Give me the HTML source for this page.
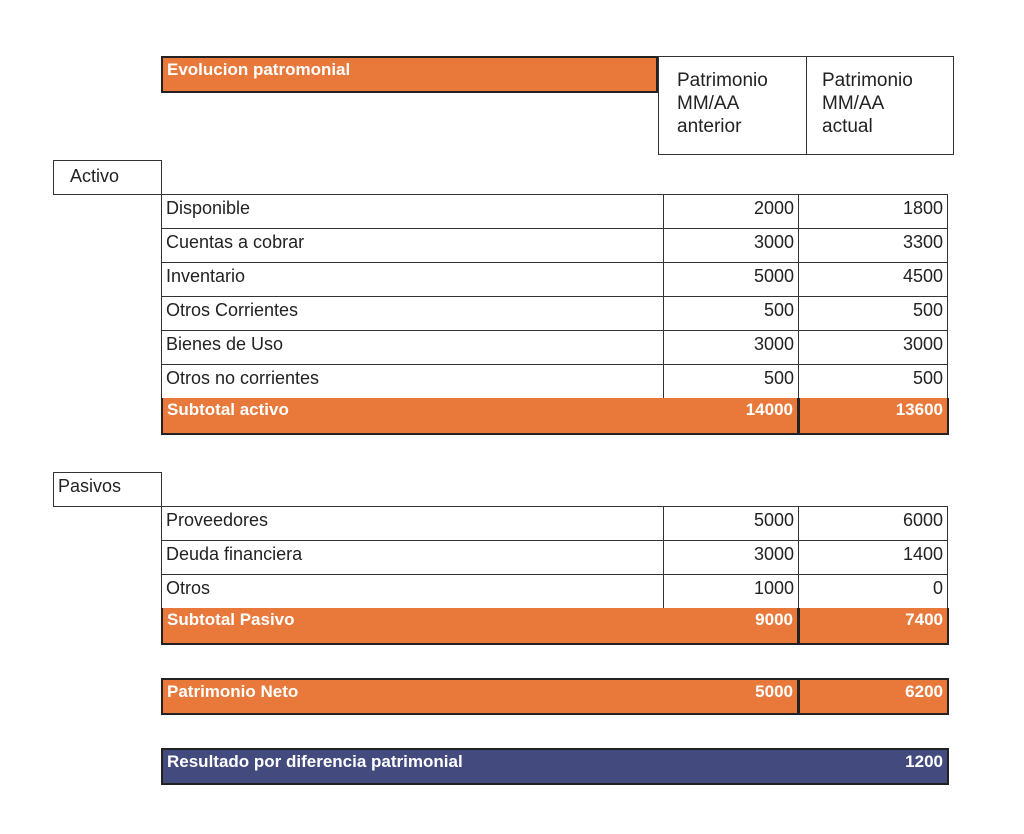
<!DOCTYPE html>
<html><head><meta charset="utf-8"><style>
body{margin:0;width:1024px;height:834px;background:#fff;position:relative;font-family:"Liberation Sans",sans-serif;overflow:hidden}
.c{position:absolute;box-sizing:border-box;border:1.5px solid #333;font-size:18px;color:#222;padding:0 4px;line-height:26px;white-space:nowrap}
.r{text-align:right}
.o{background:#e8793a;color:#fff;font-weight:bold;font-size:17px;border:2px solid #222;border-top:none;line-height:24px}
.n{background:#434a7e;color:#fff;font-weight:bold;font-size:17px;border:2px solid #222;line-height:24px}
.h{font-size:19px;line-height:23px;padding:12px 18px;white-space:normal}
</style></head><body>
<div class="c o" style="left:161px;top:56px;width:497px;height:37px;border-top:2px solid #222;line-height:24px">Evolucion patromonial</div>
<div class="c h" style="left:658px;top:56px;width:149px;height:99px">Patrimonio MM/AA anterior</div>
<div class="c h" style="left:806px;top:56px;width:148px;height:99px;padding-left:15px">Patrimonio MM/AA actual</div>
<div class="c" style="left:53px;top:160px;width:109px;height:35px;padding-left:16px;line-height:31px">Activo</div>
<div class="c" style="left:53px;top:472px;width:109px;height:35px;line-height:27px">Pasivos</div>
<div class="c o" style="left:161px;top:678px;width:638px;height:37px;border-top:2px solid #222">Patrimonio Neto<span style="position:absolute;right:4px">5000</span></div>
<div class="c o r" style="left:798px;top:678px;width:151px;height:37px;border-top:2px solid #222">6200</div>
<div class="c n" style="left:161px;top:748px;width:788px;height:37px">Resultado por diferencia patrimonial<span style="position:absolute;right:4px">1200</span></div>
<script>
const actLabels=["Disponible","Cuentas a cobrar","Inventario","Otros Corrientes","Bienes de Uso","Otros no corrientes"];
const actPrev=[2000,3000,5000,500,3000,500];
const actCur=[1800,3300,4500,500,3000,500];
const pasLabels=["Proveedores","Deuda financiera","Otros"];
const pasPrev=[5000,3000,1000];
const pasCur=[6000,1400,0];
function cell(x,y,w,h,t,cls,name){const d=document.createElement('div');d.className='c '+cls;
d.style.cssText=`left:${x}px;top:${y}px;width:${w}px;height:${h}px`;d.textContent=t;


document.body.appendChild(d);}
function block(top,labels,prev,cur,sub,key){
labels.forEach((l,i)=>{const y=top+i*34;
cell(161,y,503,35,l,'',key+'-label');
cell(663,y,136,35,prev[i],'r',key+'-prev');
cell(798,y,150,35,cur[i],'r',key+'-cur');});
const y=top+labels.length*34;
const sp=prev.reduce((a,b)=>a+b,0),sc=cur.reduce((a,b)=>a+b,0);
cell(161,y,638,37,sub,'o',key+'-subtotal');
const s=document.createElement('span');s.style.cssText='position:absolute;right:4px';s.textContent=sp;
document.body.lastChild.appendChild(s);
cell(798,y,151,37,sc,'o r',key+'-subtotal-current');}
block(194,actLabels,actPrev,actCur,'Subtotal activo','activo');
block(506,pasLabels,pasPrev,pasCur,'Subtotal Pasivo','pasivo');
</script>
</body></html>
